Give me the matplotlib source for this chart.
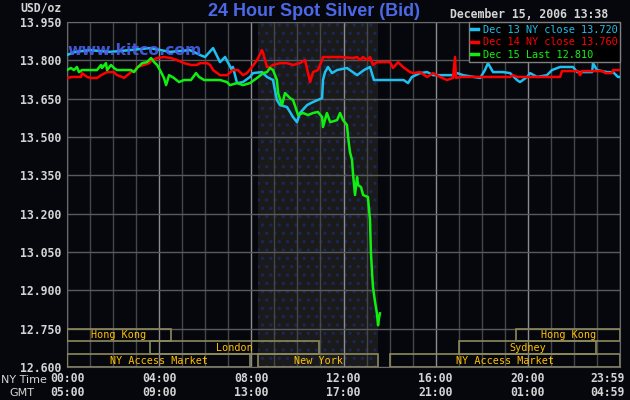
import matplotlib
matplotlib.use("Agg")
import matplotlib.pyplot as plt
import matplotlib.transforms as mtrans
from matplotlib.patches import Rectangle

# NY time (hours) / bid price (USD/oz)
dec13_hours = [0.00, 0.35, 1.00, 1.87, 2.73, 3.60, 4.47, 5.34, 5.77, 5.99, 6.34, 6.64, 6.86, 7.16, 7.20,
               7.38, 7.64, 7.94, 8.07, 8.46, 8.68, 8.94, 9.11, 9.24, 9.55, 9.81, 9.98, 10.11, 10.42,
               10.68, 11.07, 11.11, 11.20, 11.33, 11.50, 11.72, 12.15, 12.59, 12.89, 13.15, 13.32,
               13.58, 14.61, 14.80, 14.97, 15.32, 15.63, 15.89, 16.75, 16.93, 17.19, 17.93, 18.14,
               18.27, 18.49, 18.92, 19.23, 19.53, 19.66, 19.97, 20.10, 20.40, 20.83, 21.05, 21.40,
               21.96, 22.14, 22.79, 22.83, 23.00, 23.44, 23.70, 23.91, 23.98]
dec13_price = [13.821, 13.833, 13.840, 13.833, 13.840, 13.848, 13.833, 13.840, 13.821, 13.813, 13.848,
               13.793, 13.813, 13.762, 13.774, 13.711, 13.715, 13.735, 13.750, 13.754, 13.735, 13.723,
               13.645, 13.625, 13.617, 13.578, 13.558, 13.594, 13.625, 13.637, 13.652, 13.723, 13.754,
               13.774, 13.750, 13.762, 13.770, 13.742, 13.762, 13.774, 13.723, 13.723, 13.723, 13.711,
               13.735, 13.750, 13.754, 13.742, 13.742, 13.750, 13.742, 13.731, 13.762, 13.789, 13.754,
               13.754, 13.750, 13.723, 13.715, 13.735, 13.750, 13.735, 13.742, 13.762, 13.774, 13.774,
               13.754, 13.754, 13.789, 13.762, 13.754, 13.754, 13.735, 13.735]

dec14_hours = [0.00, 0.22, 0.61, 0.65, 0.87, 1.04, 1.30, 1.48, 1.74, 2.04, 2.17, 2.39, 2.47, 2.78, 3.00,
               3.04, 3.34, 3.56, 3.69, 3.91, 4.21, 4.51, 4.77, 5.08, 5.38, 5.64, 5.77, 6.08, 6.21, 6.34,
               6.64, 6.94, 7.20, 7.42, 7.64, 7.81, 8.03, 8.25, 8.46, 8.51, 8.68, 8.81, 8.94, 9.24, 9.55,
               9.81, 10.11, 10.33, 10.46, 10.55, 10.68, 10.89, 11.07, 11.11, 11.85, 12.41, 12.59, 12.72,
               12.85, 13.02, 13.15, 13.28, 13.45, 14.02, 14.15, 14.37, 14.58, 14.89, 15.02, 15.32, 15.63,
               15.89, 16.19, 16.49, 16.75, 16.84, 16.88, 17.06, 19.23, 19.36, 19.53, 21.40, 21.48, 22.18,
               22.27, 22.35, 23.26, 23.35, 23.65, 23.70, 23.98]
dec14_price = [13.731, 13.735, 13.735, 13.750, 13.735, 13.731, 13.731, 13.742, 13.754, 13.754, 13.742,
               13.735, 13.731, 13.754, 13.762, 13.774, 13.782, 13.789, 13.801, 13.809, 13.813, 13.809,
               13.801, 13.789, 13.782, 13.782, 13.789, 13.789, 13.782, 13.762, 13.742, 13.742, 13.762,
               13.762, 13.742, 13.750, 13.774, 13.801, 13.840, 13.829, 13.774, 13.774, 13.782, 13.789,
               13.789, 13.782, 13.789, 13.801, 13.750, 13.715, 13.754, 13.762, 13.801, 13.813, 13.813,
               13.809, 13.813, 13.801, 13.813, 13.801, 13.813, 13.782, 13.793, 13.793, 13.770, 13.793,
               13.774, 13.754, 13.750, 13.754, 13.735, 13.750, 13.735, 13.723, 13.731, 13.813, 13.731,
               13.735, 13.735, 13.742, 13.735, 13.735, 13.758, 13.758, 13.742, 13.758, 13.758, 13.750,
               13.750, 13.762, 13.762]

dec15_hours = [0.00, 0.17, 0.30, 0.43, 0.52, 0.65, 1.30, 1.48, 1.52, 1.69, 1.74, 1.91, 2.04, 2.17, 2.78,
               2.91, 3.04, 3.26, 3.47, 3.65, 3.78, 3.91, 4.08, 4.21, 4.30, 4.43, 4.64, 4.86, 5.08, 5.38,
               5.60, 5.73, 5.95, 6.64, 6.94, 7.07, 7.38, 7.64, 7.94, 8.25, 8.51, 8.68, 8.81, 8.94, 9.11,
               9.16, 9.33, 9.46, 9.68, 9.81, 10.03, 10.24, 10.46, 10.68, 10.89, 11.07, 11.11, 11.28,
               11.42, 11.72, 11.85, 11.98, 12.15, 12.20, 12.28, 12.37, 12.41, 12.50, 12.59, 12.63, 12.76,
               12.85, 13.06, 13.15, 13.19, 13.24, 13.28, 13.37, 13.45, 13.50, 13.54, 13.58]
dec15_price = [13.762, 13.770, 13.762, 13.774, 13.754, 13.762, 13.762, 13.782, 13.770, 13.789, 13.762,
               13.782, 13.770, 13.762, 13.762, 13.754, 13.770, 13.789, 13.793, 13.809, 13.793, 13.782,
               13.754, 13.731, 13.703, 13.742, 13.731, 13.715, 13.723, 13.723, 13.750, 13.735, 13.723,
               13.723, 13.715, 13.703, 13.711, 13.703, 13.711, 13.731, 13.750, 13.754, 13.770, 13.762,
               13.723, 13.672, 13.625, 13.672, 13.652, 13.645, 13.586, 13.594, 13.586, 13.594, 13.598,
               13.578, 13.539, 13.594, 13.558, 13.566, 13.594, 13.566, 13.547, 13.500, 13.441, 13.410,
               13.359, 13.273, 13.343, 13.312, 13.304, 13.273, 13.265, 13.175, 13.049, 12.967, 12.912,
               12.854, 12.810, 12.763, 12.790, 12.810]

series_labels = ["Dec 13 NY close 13.720", "Dec 14 NY close 13.760", "Dec 15 Last 12.810"]
series_colors = ["#1ec0f0", "#ff0000", "#10f010"]

y_ticks = [12.60, 12.75, 12.90, 13.05, 13.20, 13.35, 13.50, 13.65, 13.80, 13.95]
x_ticks = [0, 4, 8, 12, 16, 20, 24]
ny_labels = ["00:00", "04:00", "08:00", "12:00", "16:00", "20:00", "23:59"]
gmt_labels = ["05:00", "09:00", "13:00", "17:00", "21:00", "01:00", "04:59"]

# trading sessions: row 0 = top band
session_names = ["Hong Kong", "London", "NY Access Market", "New York", "NY Access Market", "Sydney", "Hong Kong"]
session_start = [0.0, 3.6, 0.0, 8.3, 14.0, 17.0, 19.5]
session_end = [4.5, 10.95, 7.95, 13.5, 24.0, 22.95, 24.0]
session_row = [0, 1, 2, 2, 2, 1, 0]
nyse_open, nyse_close = 8.3, 13.5

bg = "#06070d"
txt = "#d4d4d4"
mono = "DejaVu Sans Mono"

fig = plt.figure(figsize=(6.3, 4.0), dpi=100, facecolor=bg)
ax = fig.add_axes([67 / 630, 33 / 400, 553 / 630, 345 / 400], facecolor=bg)
plt.rcParams['hatch.linewidth'] = 1.2

ax.axvspan(nyse_open, nyse_close, facecolor="#1a1a1a", edgecolor="#1b2656", hatch="..", lw=0, zorder=0)

ax.set_xlim(0, 24)
ax.set_ylim(12.60, 13.95)
ax.set_xticks(x_ticks)
ax.set_xticks(range(25), minor=True)
ax.set_xticklabels([])
ax.set_yticks(y_ticks)
ax.set_yticklabels(["%.3f" % v for v in y_ticks], family=mono, fontsize=8.3, weight="bold", color=txt)
ax.tick_params(length=0, which="both", pad=4)
ax.grid(axis="x", which="minor", color="#464646", lw=1.0, zorder=1)
ax.grid(axis="x", which="major", color="#8c8c8c", lw=1.0, zorder=1)
ax.grid(axis="y", which="major", color="#5a5a5a", lw=1.0, zorder=1)
for s in ax.spines.values():
    s.set_color("#6a6a6a")

# session bands
band = 0.05
for name, a, b, r in zip(session_names, session_start, session_end, session_row):
    y0 = 12.75 - band * (r + 1)
    ax.add_patch(Rectangle((a, y0), b - a, band, fill=False, ec="#8c8a5c", lw=1.2, zorder=3))
    ax.text((a + b) / 2, y0 + band / 2, name, ha="center", va="center", family=mono,
            fontsize=7.3, color="#ffc000", zorder=4)

lines = []
for h, p, c, lab in zip([dec13_hours, dec14_hours, dec15_hours],
                        [dec13_price, dec14_price, dec15_price], series_colors, series_labels):
    ln, = ax.plot(h, p, color=c, lw=1.8, label=lab, zorder=5)
    lines.append(ln)

ax.text(0.0, 0.918, "www.kitco.com", transform=ax.transAxes, ha="left", va="center",
        fontsize=11.3, weight="bold", color="#4a5ee8", alpha=0.9, zorder=6)

leg = ax.legend(loc="upper right", bbox_to_anchor=(1, 1), borderaxespad=0, frameon=True,
                fancybox=False, facecolor="#000000", edgecolor="#808080", framealpha=1,
                prop={"family": mono, "size": 7.4}, labelcolor=series_colors,
                handlelength=0.6, handletextpad=0.5, labelspacing=0.25, borderpad=0.25)
leg.set_zorder(7)
for lh in leg.get_lines():
    lh.set_linewidth(2.5)

# x tick labels: NY time row and GMT row
xform = ax.get_xaxis_transform()
for hx, ny, gmt in zip(x_ticks, ny_labels, gmt_labels):
    ha = "center"
    tr = xform
    if hx == 24:
        ha = "right"
        tr = mtrans.offset_copy(xform, fig=fig, x=5, y=0, units="dots")
    ax.text(hx, -12 / 345, ny, transform=tr, ha=ha, va="center", family=mono,
            fontsize=8.3, weight="bold", color=txt, clip_on=False)
    ax.text(hx, -26 / 345, gmt, transform=tr, ha=ha, va="center", family=mono,
            fontsize=8.3, weight="bold", color=txt, clip_on=False)

fig.text(24 / 630, 1 - 380 / 400, "NY Time", ha="center", va="center", fontsize=8, color=txt)
fig.text(22 / 630, 1 - 393 / 400, "GMT", ha="center", va="center", fontsize=8, color=txt)
fig.text(41 / 630, 1 - 8 / 400, "USD/oz", ha="center", va="center", family=mono,
         fontsize=8.3, weight="bold", color=txt)
fig.text(314 / 630, 1 - 11 / 400, "24 Hour Spot Silver (Bid)", ha="center", va="center",
         family="Liberation Sans", fontsize=13, weight="bold", color="#4b69e6")
fig.text(608 / 630, 1 - 14 / 400, "December 15, 2006 13:38", ha="right", va="center",
         family=mono, fontsize=8.3, weight="bold", color=txt)

fig.savefig("out.png", dpi=100, facecolor=bg)
